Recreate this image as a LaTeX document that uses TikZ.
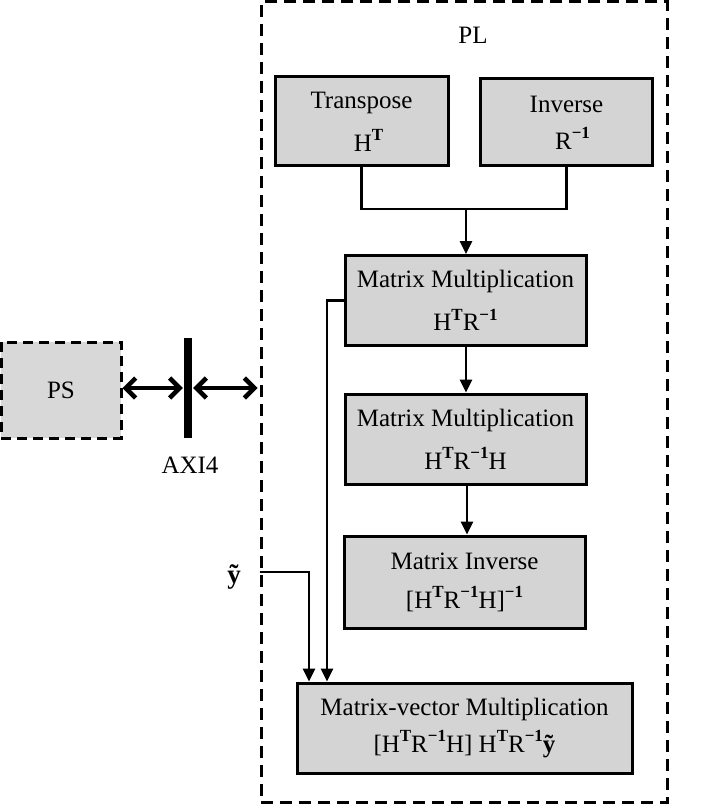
\documentclass[tikz,border=0pt]{standalone}
\usepackage{fontspec}
\setmainfont{Liberation Serif}
\usetikzlibrary{arrows.meta,calc}
\definecolor{boxgray}{RGB}{212,212,212}
\definecolor{psgray}{RGB}{216,216,216}
\newcommand\supT{\raisebox{0.42em}{\fontsize{17}{17}\selectfont\bfseries T}}
\newcommand\supMinus{\raisebox{0.42em}{\fontsize{17}{17}\selectfont\bfseries −1}}
\begin{document}
\begin{tikzpicture}[x=1pt,y=-1pt,
  blk/.style={draw, line width=3pt, fill=boxgray, inner sep=0pt, align=center,
    font=\fontsize{25}{43}\selectfont},
  conn/.style={line width=2.8pt},
  tipd/.style={-{Triangle[length=13pt,width=12pt]}},
  dbl/.style={line width=4.5pt, {Straight Barb[length=10pt,width=20pt]}-{Straight Barb[length=10pt,width=20pt]}},
  lbl/.style={font=\fontsize{25}{30}\selectfont, inner sep=0pt}
]
\useasboundingbox (0,0) rectangle (708,805);
\fill[white] (0,0) rectangle (708,805);

% PL container
\node (PL) [draw, line width=3pt, dash pattern=on 12pt off 7pt, minimum width=406pt, minimum height=800pt, inner sep=0pt] at (464,402) {};
\node (PLlbl) [lbl] at (473,35) {PL};

% blocks
\node (T) [blk, minimum width=173pt, minimum height=89pt] at (361.5,121.5) {Transpose\\ \hspace*{14pt}H\supT};
\node (I) [blk, minimum width=172pt, minimum height=87pt] at (566.5,122.5) {Inverse\\[-6pt] \hspace*{12pt}R\supMinus};
\node (M1) [blk, minimum width=241pt, minimum height=90pt] at (465.5,300.5) {Matrix Multiplication\\ H\supT R\supMinus};
\node (M2) [blk, minimum width=241pt, minimum height=90pt] at (465.5,439) {Matrix Multiplication\\ H\supT R\supMinus H};
\node (M3) [blk, minimum width=241pt, minimum height=92pt] at (464.5,582) {Matrix Inverse\\[-4pt] {[}H\supT R\supMinus H]\supMinus};
\node (MV) [blk, minimum width=335pt, minimum height=90pt] at (464.5,728) {Matrix-vector Multiplication\\[-6pt] {[}H\supT R\supMinus H] H\supT R\supMinus\textbf{ỹ}};

% PS and AXI4
\node (PS) [draw, line width=3pt, dash pattern=on 10pt off 6pt, fill=psgray, minimum width=120pt, minimum height=96pt, inner sep=0pt, font=\fontsize{25}{30}\selectfont] at (61,390) {PS};
\node (bar) [fill=black, minimum width=8pt, minimum height=100pt, inner sep=0pt] at (188,388) {};
\node (axi) [lbl] at (190,465) {AXI4};
\coordinate (ar) at (0,388);
\draw[dbl] (PS.east |- ar) -- ($(bar.west |- ar)+(-1,0)$);
\draw[dbl] ($(bar.east |- ar)+(1,0)$) -- ($(PL.west |- ar)+(-2,0)$);

% y tilde input
\node (yt) [lbl, anchor=east, font=\fontsize{27}{30}\selectfont\bfseries] at (241,577) {ỹ};

% connectors
\coordinate (j) at (466,209);
\draw[conn] (T.south) |- (j) -| (I.south);
\draw[conn,tipd] (j) -- (M1.north -| j);
\draw[conn,tipd] (M1.south -| j) -- (M2.north -| j);
\coordinate (k) at (467,0);
\draw[conn,tipd] (M2.south -| k) -- (M3.north -| k);
\coordinate (c1) at (327,0);
\draw[conn,tipd] (M1.west) -| (MV.north -| c1);
\coordinate (c2) at (309,572);
\draw[conn,tipd] (PL.west |- c2) -- (c2) -- (MV.north -| c2);
\end{tikzpicture}
\end{document}
